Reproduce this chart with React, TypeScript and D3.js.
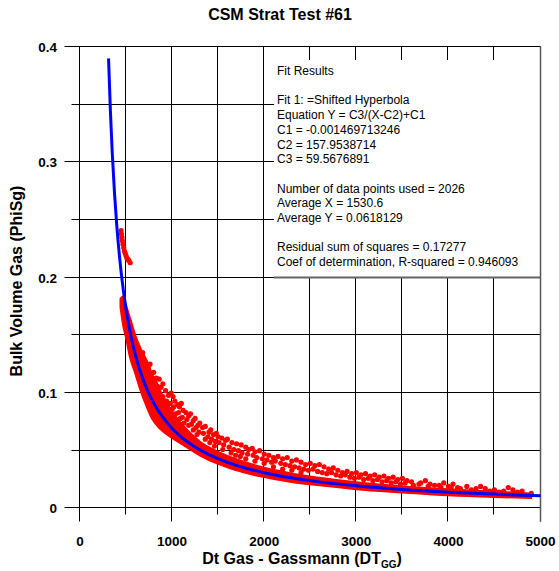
import React from "react";
import * as d3 from "d3";

const W = 559;
const H = 571;

const xTicks = [0, 1000, 2000, 3000, 4000, 5000];
const xMinor = [500, 1500, 2500, 3500, 4500];
const yTicks = [0, 0.1, 0.2, 0.3, 0.4];
const yMinor = [0.05, 0.15, 0.25, 0.35];

const fitLines = [
  "Fit Results",
  "",
  "Fit 1: =Shifted Hyperbola",
  "Equation Y = C3/(X-C2)+C1",
  "C1 = -0.001469713246",
  "C2 = 157.9538714",
  "C3 = 59.5676891",
  "",
  "Number of data points used = 2026",
  "Average X = 1530.6",
  "Average Y = 0.0618129",
  "",
  "Residual sum of squares = 0.17277",
  "Coef of determination, R-squared = 0.946093",
];

// fitted curve
const curveX = [310, 330, 350, 375, 400, 450, 500, 550, 600, 700, 800, 900, 1000, 1200, 1400, 1600, 1800, 2000, 2500, 3000, 3500, 4000, 4500, 5000];
const curveY = [0.3903, 0.3448, 0.3087, 0.273, 0.2446, 0.2025, 0.1727, 0.1505, 0.1333, 0.1084, 0.0913, 0.0788, 0.0693, 0.0557, 0.0465, 0.0398, 0.0348, 0.0309, 0.024, 0.0195, 0.0163, 0.014, 0.0123, 0.0108];

// dense band of data points
const bandX = [440, 470, 500, 543, 600, 650, 725, 780, 870, 1000, 1140, 1300, 1500, 1740, 1960, 2280, 2600, 3000, 3500, 4000, 4500, 4900];
const bandLow = [0.174, 0.158, 0.148, 0.131, 0.117, 0.104, 0.088, 0.078, 0.069, 0.061, 0.054, 0.046, 0.0385, 0.032, 0.0277, 0.0231, 0.0199, 0.0166, 0.0138, 0.0113, 0.0098, 0.009];
const bandHigh = [0.182, 0.184, 0.176, 0.165, 0.15, 0.14, 0.128, 0.117, 0.102, 0.084, 0.07, 0.058, 0.049, 0.0415, 0.036, 0.0305, 0.0265, 0.0225, 0.019, 0.0165, 0.0145, 0.0128];

// isolated cluster near the top of the band
const clusterX = [446, 450, 455, 460, 467, 475, 483, 492, 500, 510, 520, 530, 545];
const clusterY = [0.241, 0.238, 0.235, 0.232, 0.229, 0.226, 0.223, 0.221, 0.219, 0.217, 0.216, 0.215, 0.213];

// scattered points: upper edge of the cloud
const edgeX = [680, 700, 740, 760, 790, 800, 810, 830, 840, 860, 880, 900, 930, 960, 990, 1010, 1030, 1060, 1080, 1100, 1120, 1150, 1180, 1200, 1230, 1250, 1280, 1300, 1330, 1360, 1400, 1420, 1450, 1480, 1500, 1540, 1580, 1600, 1650, 1700, 1750, 1800, 1830, 1870, 1900, 1950, 2000, 2050, 2100, 2150, 2200, 2250, 2300, 2350, 2400, 2450, 2500, 2550, 2600, 2650, 2700, 2750, 2800, 2850, 2900, 2950, 3000, 3050, 3100, 3150, 3200, 3250, 3300, 3350, 3400, 3450, 3500, 3550, 3600, 3700, 3750, 3800, 3900, 3950, 4000, 4050, 4100, 4200, 4300, 4350, 4400, 4500, 4600, 4650, 4700, 4800, 4900];
const edgeY = [0.135, 0.128, 0.122, 0.125, 0.113, 0.118, 0.11, 0.113, 0.106, 0.112, 0.105, 0.108, 0.102, 0.098, 0.1, 0.097, 0.093, 0.09, 0.088, 0.091, 0.085, 0.083, 0.08, 0.082, 0.076, 0.078, 0.072, 0.074, 0.07, 0.071, 0.066, 0.068, 0.064, 0.065, 0.062, 0.061, 0.059, 0.06, 0.057, 0.056, 0.055, 0.053, 0.051, 0.052, 0.049, 0.05, 0.047, 0.046, 0.044, 0.045, 0.043, 0.044, 0.041, 0.042, 0.04, 0.038, 0.039, 0.037, 0.038, 0.036, 0.034, 0.035, 0.033, 0.031, 0.032, 0.03, 0.031, 0.029, 0.03, 0.028, 0.029, 0.027, 0.028, 0.026, 0.027, 0.025, 0.026, 0.024, 0.023, 0.022, 0.024, 0.021, 0.02, 0.022, 0.019, 0.021, 0.018, 0.019, 0.017, 0.019, 0.017, 0.016, 0.015, 0.018, 0.016, 0.015, 0.013];

// scattered points: middle of the cloud
const midX = [820, 850, 900, 940, 980, 1020, 1070, 1110, 1160, 1210, 1260, 1290, 1340, 1390, 1430, 1470, 1510, 1560, 1620, 1670, 1720, 1760, 1820, 1880, 1920, 1980, 2030, 2080, 2120, 2180, 2230, 2280, 2330, 2380, 2430, 2480, 2530, 2580, 2630, 2680, 2730, 2780, 2830, 2880, 2930, 2980, 3030, 3080, 3130, 3180, 3230, 3280, 3330, 3380, 3430, 3480, 3530, 3620, 3680, 3780, 3850, 3920, 4030, 4130, 4250, 4450, 4550, 4750];
const midY = [0.108, 0.104, 0.097, 0.093, 0.091, 0.088, 0.083, 0.079, 0.077, 0.073, 0.07, 0.066, 0.065, 0.062, 0.06, 0.058, 0.057, 0.055, 0.053, 0.051, 0.05, 0.048, 0.047, 0.046, 0.044, 0.043, 0.042, 0.04, 0.041, 0.039, 0.038, 0.037, 0.036, 0.035, 0.034, 0.033, 0.034, 0.032, 0.031, 0.03, 0.031, 0.029, 0.028, 0.029, 0.027, 0.026, 0.027, 0.025, 0.026, 0.024, 0.025, 0.023, 0.024, 0.022, 0.023, 0.021, 0.022, 0.02, 0.021, 0.019, 0.02, 0.018, 0.018, 0.017, 0.016, 0.015, 0.014, 0.014];

// scattered points: lower part of the cloud
const lowX = [950, 1000, 1040, 1090, 1130, 1180, 1230, 1270, 1360, 1410, 1460, 1550, 1640, 1690, 1740, 1800, 1900, 2000, 2100, 2200, 2300, 2400];
const lowY = [0.088, 0.086, 0.082, 0.078, 0.074, 0.072, 0.068, 0.064, 0.06, 0.057, 0.054, 0.051, 0.048, 0.046, 0.045, 0.043, 0.041, 0.039, 0.036, 0.034, 0.033, 0.031];

const FONT = "'Liberation Sans', Arial, Helvetica, sans-serif";

export default function App() {
  const x = d3.scaleLinear().domain([0, 5000]).range([80, 540.5]);
  const y = d3.scaleLinear().domain([0, 0.4]).range([508.3, 47.2]);
  const px = (v: number) => Math.round(v) - 0.5;

  const band = d3
    .area<number>()
    .x((i) => x(bandX[i]))
    .y0((i) => y(bandLow[i]))
    .y1((i) => y(bandHigh[i]))
    .curve(d3.curveMonotoneX)(bandX.map((_, i) => i)) as string;

  const curve = d3
    .line<number>()
    .x((i) => x(curveX[i]))
    .y((i) => y(curveY[i]))
    .curve(d3.curveMonotoneX)(curveX.map((_, i) => i)) as string;

  const top = px(y(0.4));
  const bottom = px(y(0));
  const left = px(x(0));
  const right = px(x(5000));

  const boxLeft = 274;
  const boxTop = 60;
  const boxBottom = px(y(0.2));

  const dots = (xs: number[], ys: number[], k: string) =>
    xs.map((v, i) => <circle key={k + i} cx={x(v)} cy={y(ys[i])} r={2.6} fill="#ff0000" />);

  return (
    <svg width={W} height={H} style={{ position: "absolute", left: 0, top: 0, background: "#fff" }} fontFamily={FONT}>
      <rect x={0} y={0} width={W} height={H} fill="#fff" />
      {/* grid */}
      {xTicks.map((t) => (
        <line key={"xv" + t} x1={px(x(t))} x2={px(x(t))} y1={top} y2={bottom + 14} stroke="#000" strokeWidth={1} />
      ))}
      {xMinor.map((t) => (
        <line key={"xm" + t} x1={px(x(t))} x2={px(x(t))} y1={top} y2={bottom + 7} stroke="#000" strokeWidth={1} />
      ))}
      {yTicks.map((t) => (
        <line key={"yv" + t} x1={left - 15} x2={right} y1={px(y(t))} y2={px(y(t))} stroke="#000" strokeWidth={1} />
      ))}
      {yMinor.map((t) => (
        <line key={"ym" + t} x1={left - 8} x2={right} y1={px(y(t))} y2={px(y(t))} stroke="#000" strokeWidth={1} />
      ))}

      {/* fit results box */}
      <rect x={boxLeft} y={boxTop} width={right - boxLeft} height={boxBottom - boxTop} fill="#fff" />
      <line x1={boxLeft} x2={right} y1={boxBottom} y2={boxBottom} stroke="#666" strokeWidth={2} />
      <line x1={right} x2={right} y1={top} y2={bottom + 14} stroke="#555" strokeWidth={1.5} />
      {fitLines.map((s, i) =>
        s ? (
          <text key={"f" + i} x={277} y={70.7 + 14.7 * i + 4.3} fontSize={12} fill="#000">
            {s}
          </text>
        ) : null
      )}

      {/* data */}
      <path d={band} fill="#ff0000" stroke="#ff0000" strokeWidth={2} strokeLinejoin="round" />
      {dots(clusterX, clusterY, "c")}
      {dots(edgeX, edgeY, "e")}
      {dots(midX, midY, "m")}
      {dots(lowX, lowY, "l")}
      <path d={curve} fill="none" stroke="#0000ff" strokeWidth={3} />

      {/* tick labels */}
      {xTicks.map((t) => (
        <text key={"xl" + t} x={x(t)} y={546} textAnchor="middle" fontSize={13.5} fontWeight="bold">
          {t}
        </text>
      ))}
      {yTicks.map((t) => (
        <text key={"yl" + t} x={57} y={y(t) + 5} textAnchor="end" fontSize={13.5} fontWeight="bold">
          {t === 0 ? "0" : t.toFixed(1)}
        </text>
      ))}

      {/* titles */}
      <text x={280} y={20} textAnchor="middle" fontSize={16} fontWeight="bold">
        CSM Strat Test #61
      </text>
      <text x={302} y={564} textAnchor="middle" fontSize={16} fontWeight="bold">
        Dt Gas - Gassmann (DT
        <tspan fontSize={10} dy={4}>GG</tspan>
        <tspan dy={-4}>)</tspan>
      </text>
      <text transform={`translate(${22},${281}) rotate(-90)`} textAnchor="middle" fontSize={16} fontWeight="bold">
        Bulk Volume Gas (PhiSg)
      </text>
    </svg>
  );
}
